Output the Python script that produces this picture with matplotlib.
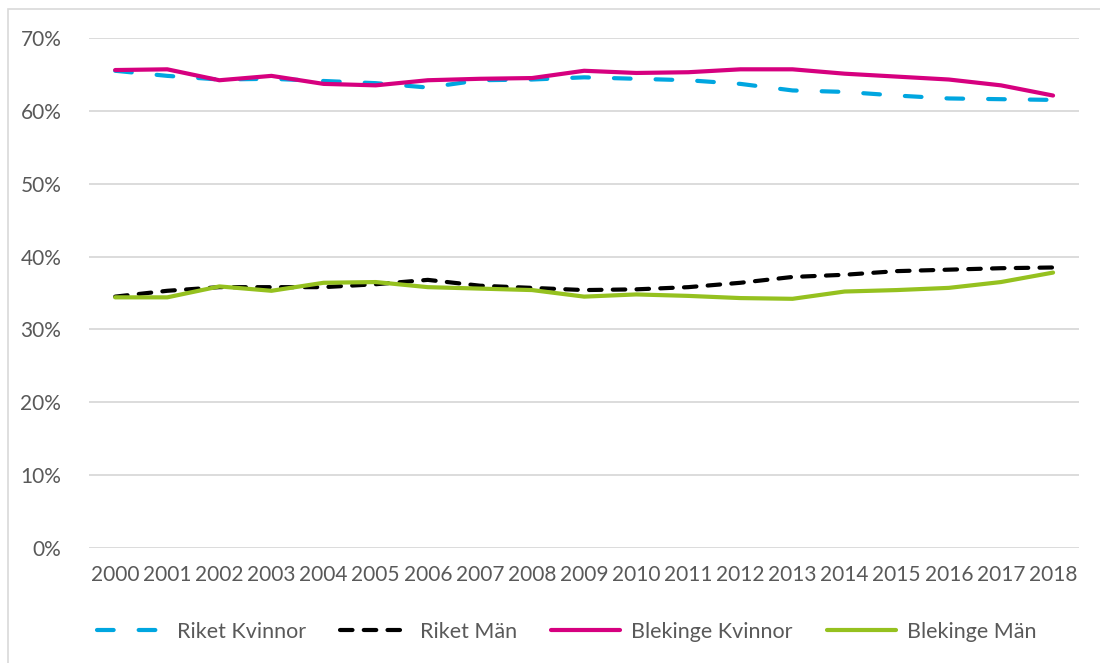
import matplotlib

matplotlib.use("Agg")
import matplotlib.pyplot as plt  # noqa: E402
from matplotlib.patches import Rectangle  # noqa: E402
from matplotlib.ticker import PercentFormatter  # noqa: E402

plt.rcParams["font.family"] = ["Lato", "DejaVu Sans"]

YEARS = [str(y) for y in range(2000, 2019)]

# Share of each group (percent)
riket_kvinnor = [65.5, 64.8, 64.3, 64.4, 64.1, 63.8, 63.2, 64.2, 64.3, 64.6,
                 64.4, 64.2, 63.7, 62.8, 62.6, 62.1, 61.7, 61.6, 61.5]
riket_man = [34.5, 35.3, 35.8, 35.8, 35.8, 36.2, 36.8, 36.0, 35.7, 35.4,
             35.5, 35.8, 36.4, 37.2, 37.5, 38.0, 38.2, 38.4, 38.5]
blekinge_kvinnor = [65.6, 65.7, 64.2, 64.8, 63.7, 63.5, 64.2, 64.4, 64.5, 65.5,
                    65.2, 65.3, 65.7, 65.7, 65.1, 64.7, 64.3, 63.5, 62.1]
blekinge_man = [34.4, 34.4, 35.9, 35.3, 36.4, 36.5, 35.8, 35.6, 35.4, 34.5,
                34.8, 34.6, 34.3, 34.2, 35.2, 35.4, 35.7, 36.5, 37.8]

TICK_COLOR = "#595959"
GRID_COLOR = "#D9D9D9"

fig = plt.figure(figsize=(11.0, 6.63), dpi=100)
ax = fig.add_axes([0.081, 0.1735, 0.9, 0.7692])

x = range(len(YEARS))
ax.plot(x, riket_kvinnor, color="#00A6E0", lw=3, dashes=(4, 6),
        dash_capstyle="round", label="Riket Kvinnor", zorder=3)
ax.plot(x, riket_man, color="black", lw=3, dashes=(3, 2.7),
        dash_capstyle="round", label="Riket Män", zorder=3)
ax.plot(x, blekinge_kvinnor, color="#D6007F", lw=3, solid_capstyle="round",
        label="Blekinge Kvinnor", zorder=4)
ax.plot(x, blekinge_man, color="#95C11F", lw=3, solid_capstyle="round",
        label="Blekinge Män", zorder=4)

ax.set_xlim(-0.5, len(YEARS) - 0.5)
ax.set_ylim(0, 70)
ax.set_yticks(range(0, 71, 10))
ax.yaxis.set_major_formatter(PercentFormatter(decimals=0))
ax.set_xticks(list(x))
ax.set_xticklabels(YEARS)
ax.tick_params(length=0, labelsize=15, colors=TICK_COLOR)
ax.tick_params(axis="x", pad=12)
ax.tick_params(axis="y", pad=20)
ax.grid(axis="y", color=GRID_COLOR, lw=1.3)
ax.set_axisbelow(True)
for spine in ax.spines.values():
    spine.set_visible(False)

fig.legend(loc="center", bbox_to_anchor=(0.515, 0.047), ncol=4, frameon=False,
           fontsize=15.5, handlelength=3.2, columnspacing=1.6, handletextpad=0.5,
           labelcolor=TICK_COLOR)

# light frame around the chart area
fig.patches.append(Rectangle((8 / 1100, -0.1), 1.2, 1.1 - 9 / 663,
                             transform=fig.transFigure, fill=False,
                             edgecolor=GRID_COLOR, lw=1.2))

fig.savefig("out.png", dpi=100)
plt.close(fig)
